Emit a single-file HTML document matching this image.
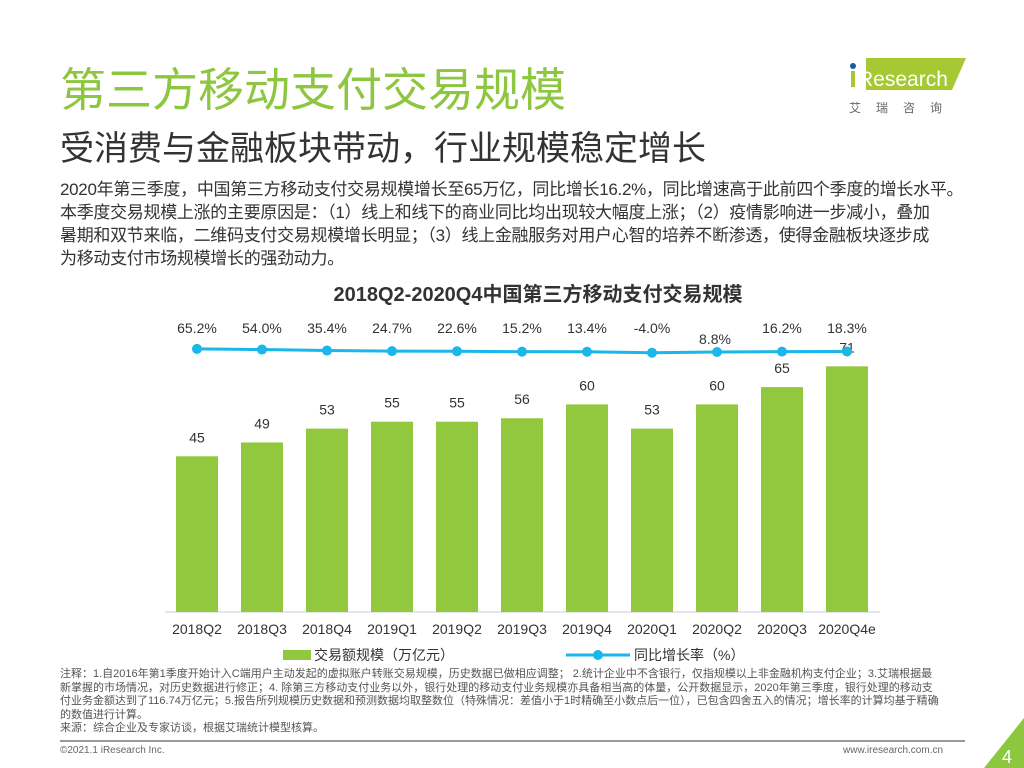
<!DOCTYPE html>
<html><head><meta charset="utf-8"><style>
body{margin:0;width:1024px;height:768px;background:#fff;position:relative;overflow:hidden;font-family:"Liberation Sans","Noto Sans CJK SC",sans-serif;color:#333}
.a{position:absolute;white-space:nowrap}
</style></head><body>
<div class="a" style="left:60px;top:54px;font-size:46px;color:#8dc63f">第三方移动支付交易规模</div>
<div class="a" style="left:60px;top:121px;font-size:34px;color:#333">受消费与金融板块带动，行业规模稳定增长</div>
<div class="a" style="left:848px;top:54px;width:120px;height:40px">
<svg width="120" height="40"><polygon points="18,4 118,4 104,36 18,36" fill="#a6c832"/><circle cx="5" cy="12" r="3" fill="#1a5aa8"/><rect x="3" y="17" width="4" height="16" fill="#a6c832"/><text x="10" y="32" font-size="21" fill="#fff" font-family="Liberation Sans">Research</text></svg>
</div>
<div class="a" style="left:849px;top:99px;font-size:12px;color:#666;letter-spacing:15px">艾瑞咨询</div>
<div class="a" style="left:60px;top:178px;font-size:17px;line-height:23px;color:#333;letter-spacing:-0.3px">2020年第三季度，中国第三方移动支付交易规模增长至65万亿，同比增长16.2%，同比增速高于此前四个季度的增长水平。<br>本季度交易规模上涨的主要原因是：（1）线上和线下的商业同比均出现较大幅度上涨；（2）疫情影响进一步减小，叠加<br>暑期和双节来临，二维码支付交易规模增长明显；（3）线上金融服务对用户心智的培养不断渗透，使得金融板块逐步成<br>为移动支付市场规模增长的强劲动力。</div>
<div class="a" style="left:318px;width:440px;text-align:center;top:278px;font-size:20px;font-weight:bold;color:#333">2018Q2-2020Q4中国第三方移动支付交易规模</div>
<svg id="chart" class="a" style="left:0;top:0" width="1024" height="768"></svg>
<div class="a" style="left:60px;top:668px;font-size:11px;line-height:13.5px;color:#555;white-space:normal;width:880px;letter-spacing:0">注释：1.自2016年第1季度开始计入C端用户主动发起的虚拟账户转账交易规模，历史数据已做相应调整； 2.统计企业中不含银行，仅指规模以上非金融机构支付企业；3.艾瑞根据最新掌握的市场情况，对历史数据进行修正；4. 除第三方移动支付业务以外，银行处理的移动支付业务规模亦具备相当高的体量，公开数据显示，2020年第三季度，银行处理的移动支付业务金额达到了116.74万亿元；5.报告所列规模历史数据和预测数据均取整数位（特殊情况：差值小于1时精确至小数点后一位），已包含四舍五入的情况；增长率的计算均基于精确的数值进行计算。<br>来源：综合企业及专家访谈，根据艾瑞统计模型核算。</div>
<div class="a" style="left:60px;top:740px;width:905px;height:2px;background:#999"></div>
<div class="a" style="left:60px;top:745px;font-size:10px;color:#666">©2021.1 iResearch Inc.</div>
<div class="a" style="left:843px;top:745px;font-size:10px;color:#666">www.iresearch.com.cn</div>
<svg class="a" style="left:984px;top:718px" width="40" height="50"><polygon points="40,0 40,50 0,50" fill="#8dc63f"/><text x="18" y="45" font-size="18" fill="#fff" font-family="Liberation Sans">4</text></svg>
<script>
const categories=["2018Q2","2018Q3","2018Q4","2019Q1","2019Q2","2019Q3","2019Q4","2020Q1","2020Q2","2020Q3","2020Q4e"];
const volumes=[45,49,53,55,55,56,60,53,60,65,71];
const rates=[65.2,54.0,35.4,24.7,22.6,15.2,13.4,-4.0,8.8,16.2,18.3];
const NS="http://www.w3.org/2000/svg";
const svg=document.getElementById('chart');
const x0=197,step=65,base=612,scale=3.46;
const xs=i=>x0+i*step;
const yb=v=>base-v*scale;
const yr=r=>352.5-r*0.055;
function mk(t,a,txt){const e=document.createElementNS(NS,t);for(const k in a)e.setAttribute(k,a[k]);if(txt!=null)e.textContent=txt;svg.appendChild(e);return e;}
const ax=mk('line',{x1:165,x2:880,y1:base,y2:base,stroke:'#ccc'});


categories.forEach((c,i)=>{
const b=mk('rect',{x:xs(i)-21,y:yb(volumes[i]),width:42,height:volumes[i]*scale,fill:'#92c83e'});


const v=mk('text',{x:xs(i),y:yb(volumes[i])-14,'text-anchor':'middle','font-size':14,fill:'#333','font-family':'Liberation Sans'},volumes[i]);


const t=mk('text',{x:xs(i),y:634,'text-anchor':'middle','font-size':14,fill:'#333','font-family':'Liberation Sans'},c);


const r=rates[i];
const rl=mk('text',{x:xs(i)+(i==8?-2:0),y:(r<10&&r>0)?344:333,'text-anchor':'middle','font-size':14,fill:'#333','font-family':'Liberation Sans'},r.toFixed(1)+'%');


});
const ln=mk('polyline',{points:rates.map((r,i)=>xs(i)+','+yr(r)).join(' '),fill:'none',stroke:'#1ab7ea','stroke-width':3});


rates.forEach((r,i)=>{const p=mk('circle',{cx:xs(i),cy:yr(r),r:5,fill:'#1ab7ea'});

});
const l1=mk('rect',{x:283,y:650,width:28,height:10,fill:'#92c83e'});


const l1t=mk('text',{x:314,y:660,'font-size':14,fill:'#333'},'交易额规模（万亿元）');


const l2=mk('line',{x1:566,x2:630,y1:655,y2:655,stroke:'#1ab7ea','stroke-width':3});


const l2c=mk('circle',{cx:598,cy:655,r:5,fill:'#1ab7ea'});


const l2t=mk('text',{x:634,y:660,'font-size':14,fill:'#333'},'同比增长率（%）');


</script>
</body></html>
